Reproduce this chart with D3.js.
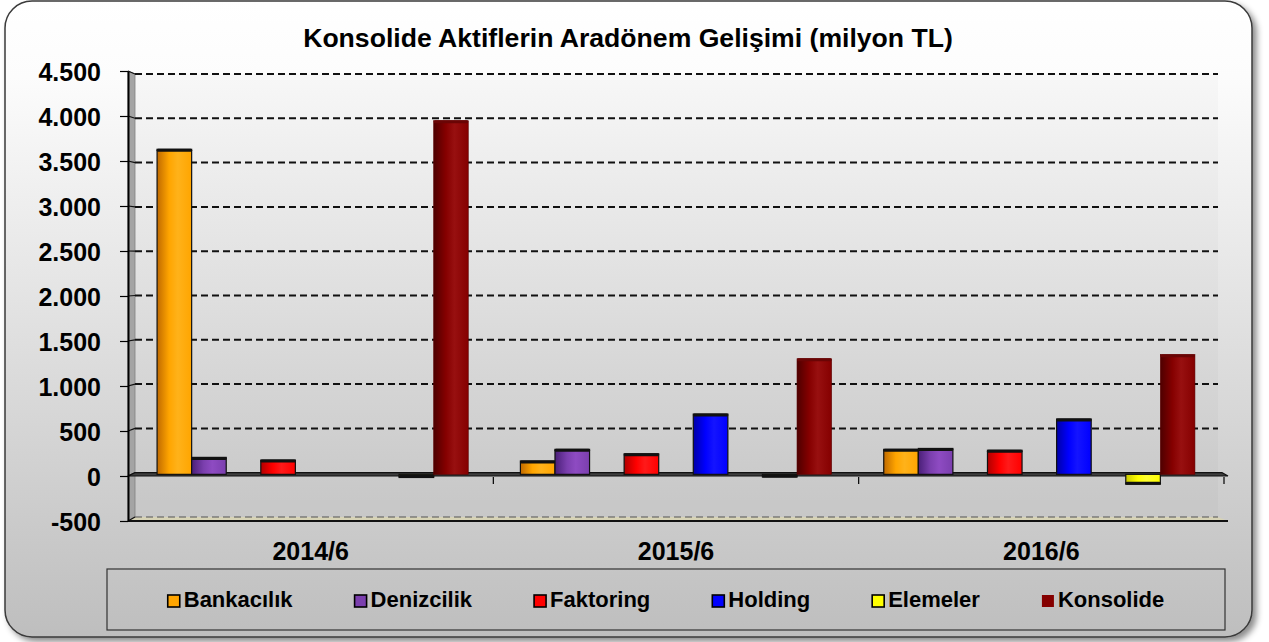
<!DOCTYPE html>
<html>
<head>
<meta charset="utf-8">
<script src="https://cdn.jsdelivr.net/npm/d3@7"></script>
<style>
  html, body { margin: 0; padding: 0; background: #ffffff; }
  svg { display: block; }
  text { font-family: "Liberation Sans", Arial, sans-serif; font-weight: bold; fill: #000; }
</style>
</head>
<body>
<svg id="chart" width="1269" height="642"></svg>
<script>
// ---------------- data ----------------
const title = "Konsolide Aktiflerin Aradönem Gelişimi (milyon TL)";
const categories = ["2014/6", "2015/6", "2016/6"];
const seriesNames = ["Bankacılık", "Denizcilik", "Faktoring", "Holding", "Elemeler", "Konsolide"];
// workbook has three empty series between the visible ones (they only take up room)
const slotOrder = ["Bankacılık", "Denizcilik", "boş-1", "Faktoring", "boş-2", "Holding", "boş-3", "Elemeler", "Konsolide"];
const bankacilik = [3640, 150, 280];
const denizcilik = [190, 280, 290];
const faktoring  = [160, 230, 270];
const holding    = [0, 675, 620];
const elemeler   = [-35, -30, -110];
const konsolide  = [3960, 1295, 1340];
const yTicks = [-500, 0, 500, 1000, 1500, 2000, 2500, 3000, 3500, 4000, 4500];

const seriesValues = {
  "Bankacılık": bankacilik, "Denizcilik": denizcilik, "Faktoring": faktoring,
  "Holding": holding, "Elemeler": elemeler, "Konsolide": konsolide
};
const colors = {
  "Bankacılık": { base: "#ffa500", dark: "#c06a00", light: "#ffb21a", outline: true },
  "Denizcilik": { base: "#7b3fae", dark: "#4a1f78", light: "#8e4bc2", outline: true },
  "Faktoring":  { base: "#ff0000", dark: "#b00000", light: "#ff1a1a", outline: true },
  "Holding":    { base: "#0000ff", dark: "#0000a8", light: "#1414ff", outline: true },
  "Elemeler":   { base: "#ffff00", dark: "#c8c800", light: "#ffff30", outline: true },
  "Konsolide":  { base: "#850000", dark: "#4e0000", light: "#981010", outline: false }
};

// ---------------- setup ----------------
const svg = d3.select("#chart");
const defs = svg.append("defs");

const bg = defs.append("linearGradient").attr("id", "bg").attr("x1", 0).attr("y1", 0).attr("x2", 0).attr("y2", 1);
bg.append("stop").attr("offset", 0).attr("stop-color", "#ffffff");
bg.append("stop").attr("offset", 0.12).attr("stop-color", "#fcfcfc");
bg.append("stop").attr("offset", 1).attr("stop-color", "#bebebe");

const shadow = defs.append("filter").attr("id", "shadow").attr("x", "-5%").attr("y", "-5%").attr("width", "110%").attr("height", "115%");
shadow.append("feDropShadow").attr("dx", 4).attr("dy", 4).attr("stdDeviation", 3)
  .attr("flood-color", "#000").attr("flood-opacity", 0.45);

seriesNames.forEach((s, i) => {
  const c = colors[s];
  const g = defs.append("linearGradient").attr("id", "g" + i).attr("x1", 0).attr("y1", 0).attr("x2", 1).attr("y2", 0);
  g.append("stop").attr("offset", 0).attr("stop-color", c.dark);
  g.append("stop").attr("offset", 0.35).attr("stop-color", c.base);
  g.append("stop").attr("offset", 0.6).attr("stop-color", c.light);
  g.append("stop").attr("offset", 1).attr("stop-color", c.base);
});

// card
svg.append("rect")
  .attr("x", 5).attr("y", 1).attr("width", 1247).attr("height", 636)
  .attr("rx", 27).attr("ry", 27)
  .attr("fill", "url(#bg)").attr("stroke", "#3a3a3a").attr("stroke-width", 1.5)
  .attr("filter", "url(#shadow)");

// title
svg.append("text")
  .attr("x", 628).attr("y", 47)
  .attr("text-anchor", "middle")
  .style("font-size", "26.6px")
  .text(title);

// ---------------- scales (front plane / back wall / mid depth) ----------------
const yFront = d3.scaleLinear().domain([-500, 4500]).range([521, 71]);
const yBack  = d3.scaleLinear().domain([-500, 4500]).range([517, 74]);
const yMid   = d3.scaleLinear().domain([-500, 4500]).range([519, 72.5]);

const xFront = d3.scaleBand().domain(categories).range([128, 1224]).padding(0);
const xBack  = d3.scaleBand().domain(categories).range([135, 1218]).padding(0);
const xMid   = d3.scaleBand().domain(categories).range([131, 1221]).padding(0);
const xSlot  = d3.scaleBand().domain(slotOrder).range([0, xMid.bandwidth()])
  .paddingInner(0).paddingOuter(0.754);

const fmt = d3.formatLocale({ decimal: ",", thousands: ".", grouping: [3], currency: ["", ""], minus: "-" }).format(",");

// back wall tint
svg.append("rect")
  .attr("x", xBack.range()[0]).attr("y", yBack(4500))
  .attr("width", xBack.range()[1] - xBack.range()[0])
  .attr("height", yBack(-500) - yBack(4500))
  .attr("fill", "#000").attr("opacity", 0.02);

// left wall
const L0 = xFront.range()[0], L1 = xBack.range()[0];
const R0 = xFront.range()[1], R1 = xBack.range()[1];
svg.append("path")
  .attr("d", `M${L0},${yFront(4500)} L${L1},${yBack(4500)} L${L1},${yBack(-500)} L${L0},${yFront(-500)} Z`)
  .attr("fill", "#a4a4a4").attr("stroke", "#808080").attr("stroke-width", 0.8);

// floor
svg.append("path")
  .attr("d", `M${L0},${yFront(-500)} L${L1},${yBack(-500)} L${R1},${yBack(-500)} L${R0 + 4},${yFront(-500)} Z`)
  .attr("fill", "#d7d3b6");

// gridlines on back wall (dashed)
svg.append("g").selectAll("line")
  .data(yTicks.filter(v => v !== 0))
  .join("line")
  .attr("x1", L1).attr("x2", R1)
  .attr("y1", d => yBack(d)).attr("y2", d => yBack(d))
  .attr("stroke", d => d === -500 ? "#555" : "#111")
  .attr("stroke-width", d => d === -500 ? 1.2 : 2)
  .attr("stroke-dasharray", "7,4");

// diagonal connectors from front ticks to back wall
svg.append("g").selectAll("line")
  .data(yTicks)
  .join("line")
  .attr("x1", L0).attr("x2", L1)
  .attr("y1", d => yFront(d)).attr("y2", d => yBack(d))
  .attr("stroke", "#111").attr("stroke-width", 1.2);

// zero plane
svg.append("path")
  .attr("d", `M${L0},${yFront(0)} L${L1},${yBack(0)} L${R1 + 4},${yBack(0)} L${R0 + 4},${yFront(0)} Z`)
  .attr("fill", "#3e3e3e").attr("stroke", "#111").attr("stroke-width", 1.2);

// floor front edge
svg.append("line")
  .attr("x1", L0).attr("x2", R0 + 4)
  .attr("y1", yFront(-500)).attr("y2", yFront(-500))
  .attr("stroke", "#111").attr("stroke-width", 2);

// y axis
const yAxis = d3.axisLeft(yFront).tickValues(yTicks).tickFormat(fmt)
  .tickSize(8).tickSizeOuter(0).tickPadding(19);
const ya = svg.append("g").attr("transform", `translate(${L0},0)`).call(yAxis);
ya.select(".domain").attr("stroke", "#000").attr("stroke-width", 2);
ya.selectAll(".tick line").attr("stroke", "#000").attr("stroke-width", 1.2);
ya.selectAll(".tick text")
  .attr("dy", "0.36em")
  .style("font-size", "25px").style("font-family", "'Liberation Sans', Arial, sans-serif")
  .style("font-weight", "bold").attr("fill", "#000");

// category boundary ticks under the zero line
svg.append("g").selectAll("line")
  .data(categories)
  .join("line")
  .attr("x1", d => xFront(d) + xFront.bandwidth()).attr("x2", d => xFront(d) + xFront.bandwidth())
  .attr("y1", yFront(0) + 1).attr("y2", yFront(0) + 8)
  .attr("stroke", "#000").attr("stroke-width", 1.2);

// category labels
svg.append("g").selectAll("text")
  .data(categories)
  .join("text")
  .attr("x", d => xFront(d) + xFront.bandwidth() / 2)
  .attr("y", 560)
  .attr("text-anchor", "middle")
  .style("font-size", "25px")
  .text(d => d);

// ---------------- bars ----------------
const barData = [];
seriesNames.forEach((s, si) => {
  seriesValues[s].forEach((v, ci) => {
    if (v !== 0) barData.push({ s, si, cat: categories[ci], v });
  });
});

const bars = svg.append("g").selectAll("g.bar").data(barData).join("g").attr("class", "bar");
const y0 = yMid(0);
bars.append("rect")
  .attr("x", d => xMid(d.cat) + xSlot(d.s))
  .attr("width", xSlot.bandwidth())
  .attr("y", d => Math.min(yMid(d.v), y0))
  .attr("height", d => Math.abs(yMid(d.v) - y0))
  .attr("fill", d => `url(#g${d.si})`)
  .attr("stroke", d => colors[d.s].outline ? "#111" : "#5a0000")
  .attr("stroke-width", d => colors[d.s].outline ? 1.2 : 0.6);
// end caps (top for positive, bottom for negative)
bars.append("rect")
  .attr("x", d => xMid(d.cat) + xSlot(d.s) - (colors[d.s].outline ? 0.5 : 0))
  .attr("width", d => xSlot.bandwidth() + (colors[d.s].outline ? 1 : 0))
  .attr("y", d => d.v > 0 ? yMid(d.v) - 0.5 : yMid(d.v) - 2.5)
  .attr("height", 3)
  .attr("rx", 1.5)
  .attr("fill", d => colors[d.s].outline ? "#111" : "#6a0505");

// ---------------- legend ----------------
const legY = 569, legH = 61, legX0 = 107, legX1 = 1225;
svg.append("rect")
  .attr("x", legX0).attr("y", legY).attr("width", legX1 - legX0).attr("height", legH)
  .attr("fill", "none").attr("stroke", "#333").attr("stroke-width", 1.2);

const legend = svg.append("g");
const items = legend.selectAll("g").data(seriesNames).join("g");
items.append("rect")
  .attr("x", 0).attr("y", -12).attr("width", 12).attr("height", 12)
  .attr("fill", d => colors[d].base)
  .attr("stroke", d => colors[d].outline ? "#000" : "none")
  .attr("stroke-width", 1.6);
items.append("text")
  .attr("x", 16).attr("y", 0)
  .style("font-size", "22px")
  .text(d => d);
const gap = 62;
const widths = items.nodes().map(n => 16 + n.querySelector("text").getComputedTextLength());
const total = d3.sum(widths) + gap * (widths.length - 1);
let cx = (legX0 + legX1) / 2 - total / 2;
items.each(function (d, i) {
  d3.select(this).attr("transform", `translate(${cx},607)`);
  cx += widths[i] + gap;
});
</script>
</body>
</html>
